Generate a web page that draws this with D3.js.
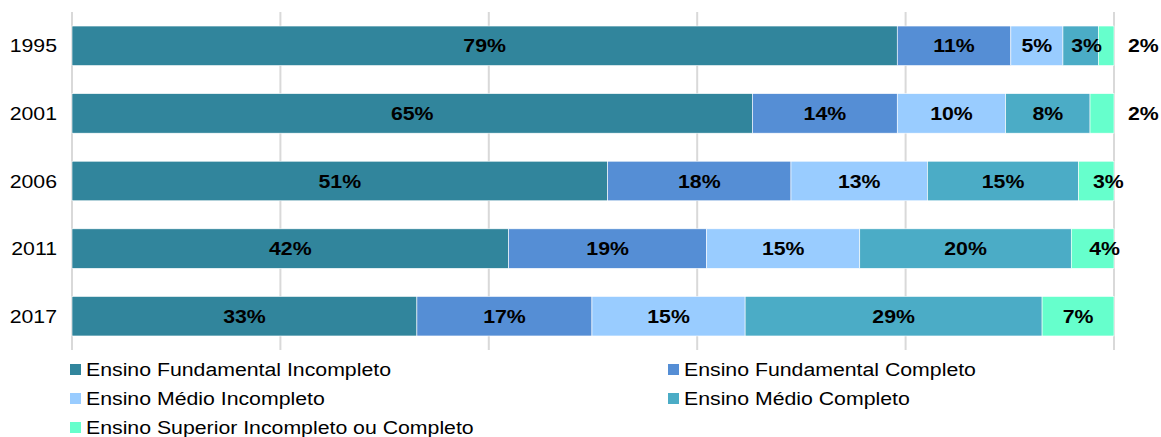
<!DOCTYPE html>
<html>
<head>
<meta charset="utf-8">
<script src="https://d3js.org/d3.v7.min.js"></script>
<style>
  body { margin: 0; background: #fff; }
  text { font-family: "Liberation Sans", Arial, sans-serif; font-size: 19px; fill: #000; }
</style>
</head>
<body>
<div id="my_dataviz"></div>
<script>

// data (share of each schooling level, %)
var years = ["1995", "2001", "2006", "2011", "2017"];
var series = ["Ensino Fundamental Incompleto", "Ensino Fundamental Completo",
              "Ensino Médio Incompleto", "Ensino Médio Completo",
              "Ensino Superior Incompleto ou Completo"];
var fundInc = [79.2, 65.3, 51.4, 41.9, 33.1];
var fundComp = [10.9, 13.9, 17.6, 19.0, 16.8];
var medioInc = [5.0, 10.4, 13.1, 14.7, 14.7];
var medioComp = [3.4, 8.1, 14.5, 20.3, 28.5];
var superior = [1.5, 2.3, 3.4, 4.1, 6.9];
var xTicks = [0, 20, 40, 60, 80, 100];

var colors = ["#31859c", "#558ed5", "#99ccff", "#4bacc6", "#66ffcc"];

var width = 1161, height = 437;
var margin = {top: 12, right: 47, bottom: 87, left: 72};
var stretch = 1.12; // text in the reference is a bit wider than Arial

var svg = d3.select("#my_dataviz")
  .append("svg")
    .attr("width", width)
    .attr("height", height);

function place(x, y) {
  return "translate(" + x + "," + y + ") scale(" + stretch + ",1)";
}

var x = d3.scaleLinear()
  .domain([0, 100])
  .range([margin.left, width - margin.right]);

var y = d3.scaleBand()
  .domain(years)
  .range([margin.top, height - margin.bottom])
  .paddingInner(0.415)
  .paddingOuter(0.2075);

// gridlines
svg.append("g")
  .selectAll("line")
  .data(xTicks)
  .enter()
  .append("line")
    .attr("x1", function(d) { return x(d); })
    .attr("x2", function(d) { return x(d); })
    .attr("y1", margin.top)
    .attr("y2", height - margin.bottom)
    .style("stroke", "#d9d9d9")
    .style("stroke-width", 2);

// year labels
svg.append("g")
  .selectAll("text")
  .data(years)
  .enter()
  .append("text")
    .attr("transform", function(d) { return place(57, y(d) + y.bandwidth() / 2); })
    .attr("dy", "0.35em")
    .attr("text-anchor", "end")
    .text(function(d) { return d; });

// stacked rows
var rows = years.map(function(yr, i) {
  return {year: yr, vals: [fundInc[i], fundComp[i], medioInc[i], medioComp[i], superior[i]]};
});
var segs = [];
rows.forEach(function(r) {
  var acc = 0;
  r.vals.forEach(function(v, k) {
    segs.push({year: r.year, k: k, v: v, x0: acc, x1: acc + v});
    acc += v;
  });
});

svg.append("g")
  .selectAll("rect")
  .data(segs)
  .enter()
  .append("rect")
    .attr("x", function(d) { return x(d.x0); })
    .attr("width", function(d) { return x(d.x1) - x(d.x0); })
    .attr("y", function(d) { return y(d.year); })
    .attr("height", y.bandwidth())
    .style("fill", function(d) { return colors[d.k]; })
    .style("stroke", "#fff")
    .style("stroke-width", 0.6);

// value labels
function outside(d) { return d.k === 4 && d.v < 3; }
svg.append("g")
  .selectAll("text")
  .data(segs)
  .enter()
  .append("text")
    .attr("transform", function(d) {
      var cx;
      if (outside(d)) cx = x(100) + 14;
      else {
        cx = (x(d.x0) + x(d.x1)) / 2;
        if (d.v < 5) cx += (d.k === 4 ? 12 : 6);
      }
      return place(cx, y(d.year) + y.bandwidth() / 2);
    })
    .attr("text-anchor", function(d) { return outside(d) ? "start" : "middle"; })
    .attr("dy", "0.35em")
    .style("font-weight", "bold")
    .text(function(d) { return Math.round(d.v) + "%"; });

// legend
var legPos = [[70, 364], [668, 364], [70, 393], [668, 393], [70, 422]];
var leg = svg.append("g")
  .selectAll("g")
  .data(series)
  .enter()
  .append("g")
    .attr("transform", function(d, i) { return "translate(" + legPos[i][0] + "," + legPos[i][1] + ")"; });
leg.append("rect")
  .attr("width", 11)
  .attr("height", 11)
  .style("fill", function(d, i) { return colors[i]; });
leg.append("text")
  .attr("transform", place(16, 5.5))
  .attr("dy", "0.35em")
  .text(function(d) { return d; });

</script>
</body>
</html>
